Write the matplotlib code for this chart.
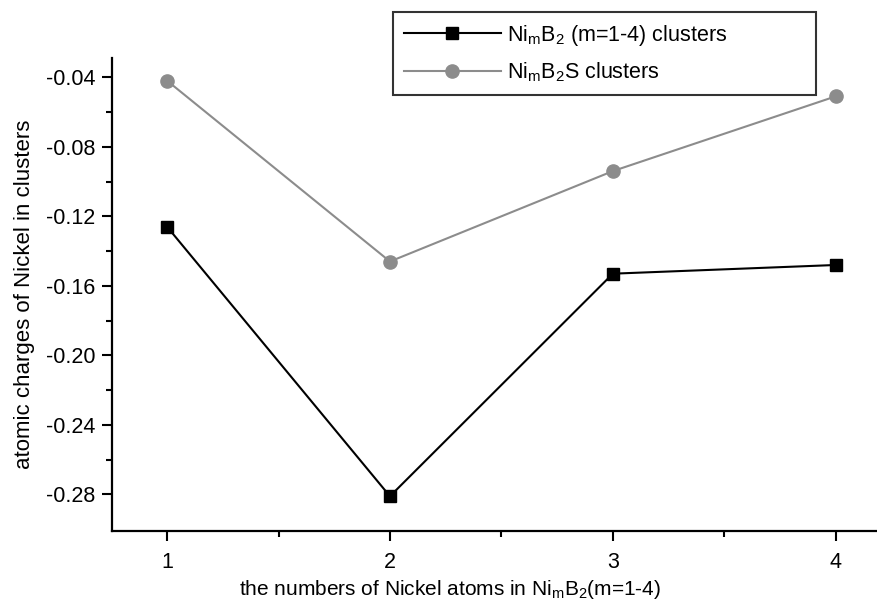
import matplotlib
matplotlib.use("Agg")
import matplotlib.pyplot as plt
from matplotlib.ticker import FixedLocator

plt.rcParams['font.family'] = ['Liberation Sans', 'DejaVu Sans']
plt.rcParams['mathtext.fontset'] = 'custom'
plt.rcParams['mathtext.rm'] = 'Liberation Sans'
plt.rcParams['mathtext.it'] = 'Liberation Sans'

m_values = [1, 2, 3, 4]
nimb2 = [-0.126, -0.281, -0.153, -0.148]
nimb2s = [-0.042, -0.146, -0.094, -0.051]
ytick_vals = [-0.04, -0.08, -0.12, -0.16, -0.20, -0.24, -0.28]

fig = plt.figure(figsize=(8.77, 6.05), dpi=100)
ax = fig.add_axes([0.1277, 0.1223, 0.8723, 0.7817])

ax.plot(m_values, nimb2, color='black', lw=1.5, marker='s', ms=9,
        label=r'$\mathregular{Ni_mB_2}$ (m=1-4) clusters')
ax.plot(m_values, nimb2s, color='#8c8c8c', lw=1.5, marker='o', ms=9.5,
        label=r'$\mathregular{Ni_mB_2S}$ clusters')

ax.set_xlim(0.753, 4.185)
ax.set_ylim(-0.301, -0.029)
ax.xaxis.set_major_locator(FixedLocator(m_values))
ax.xaxis.set_minor_locator(FixedLocator([1.5, 2.5, 3.5]))
ax.yaxis.set_major_locator(FixedLocator(ytick_vals))
ax.yaxis.set_minor_locator(FixedLocator([-0.06, -0.10, -0.14, -0.18, -0.22, -0.26]))
ax.set_yticklabels([f'{v:.2f}' for v in ytick_vals])

for s in ['top', 'right']:
    ax.spines[s].set_visible(False)
for s in ['left', 'bottom']:
    ax.spines[s].set_linewidth(1.6)

ax.tick_params(which='major', direction='out', length=7, width=1.5, labelsize=15.5, pad=5)
ax.tick_params(which='minor', direction='out', length=4, width=1.5)
ax.tick_params(axis='x', pad=8)

ax.set_xlabel(r'the numbers of Nickel atoms in $\mathregular{Ni_mB_2}$(m=1-4)', fontsize=15)
ax.xaxis.set_label_coords(0.442, -0.1)
ax.set_ylabel('atomic charges of Nickel in clusters', fontsize=16, labelpad=8)

leg = fig.legend(*ax.get_legend_handles_labels(), loc='upper left',
                 bbox_to_anchor=(0.448, 0.8445, 0.482, 0.1355), mode='expand',
                 borderaxespad=0, fontsize=15.5,
                 frameon=True, fancybox=False, edgecolor='black', borderpad=0.5,
                 handlelength=4.5, handletextpad=0.3, labelspacing=0.6)
leg.get_frame().set_linewidth(1.5)

fig.savefig('out.png', dpi=100)
